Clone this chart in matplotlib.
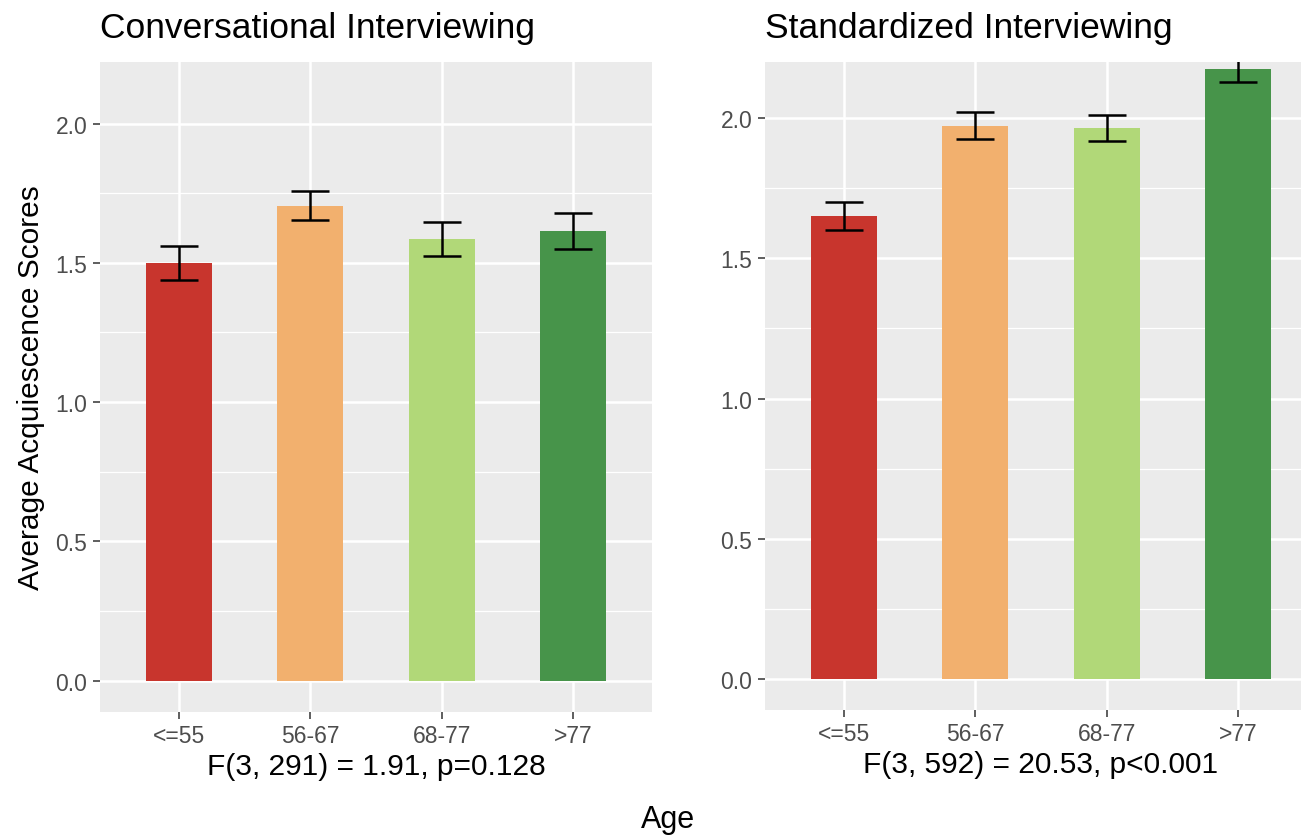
import matplotlib
matplotlib.use("Agg")
import matplotlib.pyplot as plt
from matplotlib.ticker import MultipleLocator

plt.rcParams['font.family'] = ['Liberation Sans', 'DejaVu Sans']

ages = ['<=55', '56-67', '68-77', '>77']
colors = ['#C8352D', '#F2B06E', '#B1D878', '#47944A']

conv_mean = [1.50, 1.705, 1.586, 1.615]
conv_err = [0.062, 0.053, 0.060, 0.064]
std_mean = [1.651, 1.972, 1.965, 2.175]
std_err = [0.050, 0.048, 0.047, 0.046]

titles = ['Conversational Interviewing', 'Standardized Interviewing']
stats = ['F(3, 291) = 1.91, p=0.128', 'F(3, 592) = 20.53, p<0.001']
ylims = [(-0.113, 2.221), (-0.11, 2.2)]

W, H = 1301, 837
fig = plt.figure(figsize=(W / 100, H / 100), dpi=100)

# panel boxes in pixels: left, top, right, bottom
boxes = [(100, 63, 652, 713), (765, 63, 1317, 711)]

for i, (means, errs) in enumerate([(conv_mean, conv_err), (std_mean, std_err)]):
    l, t, r, b = boxes[i]
    ax = fig.add_axes([l / W, 1 - b / H, (r - l) / W, (b - t) / H])
    ax.set_facecolor('#EBEBEB')
    x = range(len(ages))
    ax.bar(x, means, width=0.5, color=colors, zorder=3)
    ax.errorbar(x, means, yerr=errs, fmt='none', ecolor='black',
                elinewidth=1.8, capsize=13.5, capthick=1.8, zorder=4)
    ax.set_xlim(-0.6, 3.6)
    ax.set_ylim(*ylims[i])
    ax.set_xticks(list(x))
    ax.set_xticklabels(ages)
    ax.yaxis.set_major_locator(MultipleLocator(0.5))
    ax.yaxis.set_minor_locator(MultipleLocator(0.25))
    ax.set_yticklabels([f'{v:.1f}' for v in ax.get_yticks()])
    ax.grid(which='major', color='white', linewidth=1.8, zorder=0)
    ax.grid(which='minor', axis='y', color='white', linewidth=0.9, zorder=0)
    ax.set_axisbelow(True)
    for s in ax.spines.values():
        s.set_visible(False)
    ax.tick_params(which='major', length=5, width=1.1, color='#333333',
                   labelcolor='#4D4D4D', labelsize=16.5, pad=4)
    ax.tick_params(which='minor', length=0)
    ax.set_title(titles[i], loc='left', fontsize=25.5, pad=18, color='black')
    ax.set_xlabel(stats[i], fontsize=21.5, labelpad=3)
    if i == 0:
        ax.set_ylabel('Average Acquiescence Scores', fontsize=21.5, labelpad=8)

fig.text(668 / W, 1 - 820 / H, 'Age', ha='center', va='center', fontsize=22)

fig.savefig('out.png', dpi=100, facecolor='white')
